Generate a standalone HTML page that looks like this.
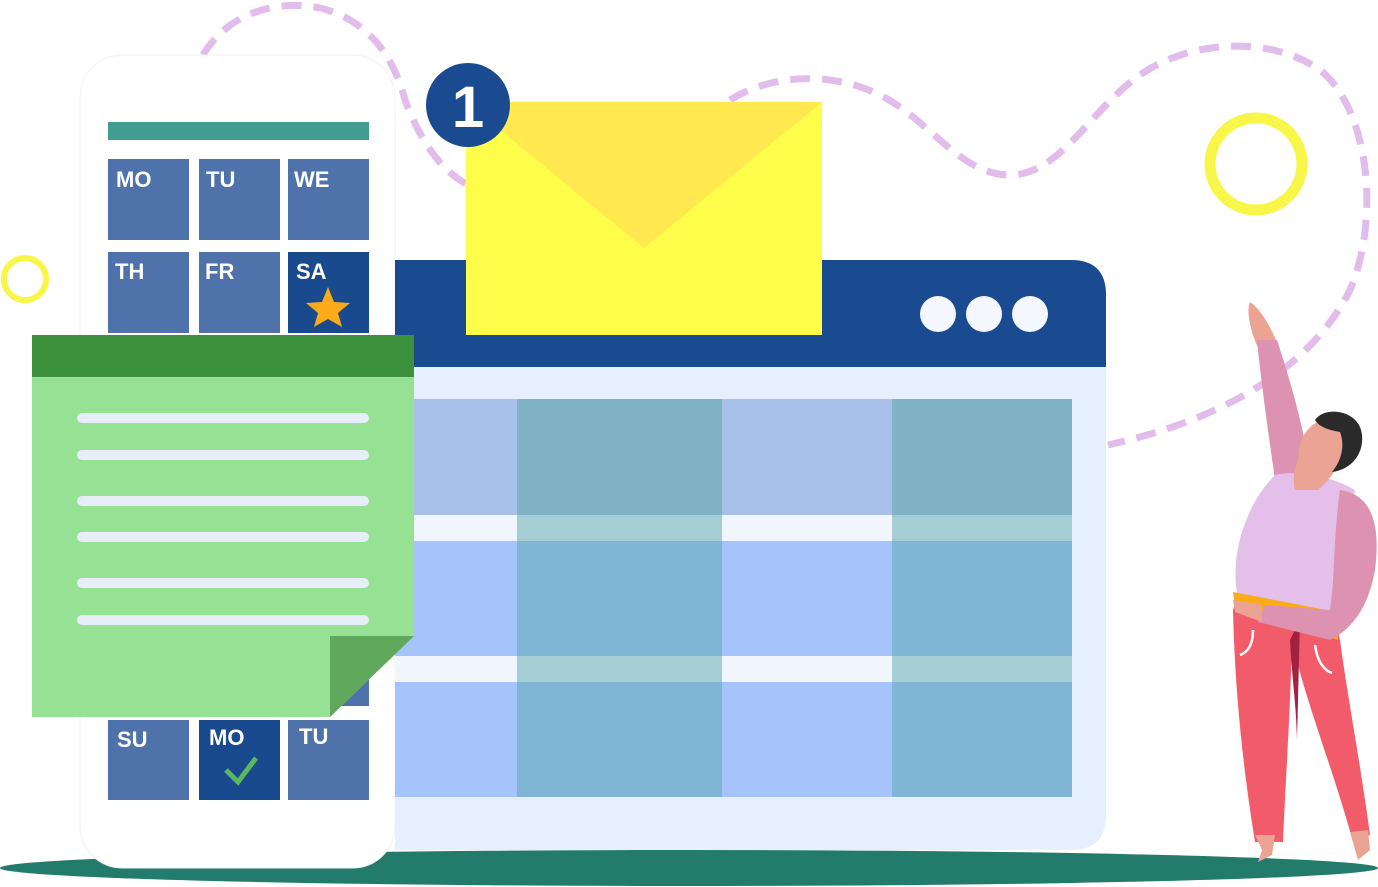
<!DOCTYPE html>
<html><head><meta charset="utf-8"><style>
html,body{margin:0;padding:0;background:#fff;}
svg{display:block}
text{font-family:"Liberation Sans",sans-serif;font-weight:bold;fill:#fff}
</style></head><body>
<svg width="1378" height="887" viewBox="0 0 1378 887" xmlns="http://www.w3.org/2000/svg">
<!-- ground -->
<ellipse cx="689" cy="868" rx="689" ry="18" fill="#237b6c"/>
<!-- dashed paths -->
<g fill="none" stroke="#e2bdec" stroke-width="7" stroke-dasharray="20 12">
<path d="M203 55 C230 10 280 0 320 8 C370 20 395 60 405 100 C420 140 440 170 468 185"/>
<path d="M730 100 C770 75 830 70 880 95 C930 120 960 175 1010 175 C1060 175 1090 110 1140 75 C1190 40 1270 35 1320 70 C1370 110 1380 220 1350 290 C1310 370 1220 420 1108 445"/>
</g>
<!-- yellow rings -->
<circle cx="1256" cy="164" r="46" fill="none" stroke="#f9f64a" stroke-width="11"/>
<circle cx="25" cy="279" r="21" fill="none" stroke="#f9f64a" stroke-width="6"/>
<!-- phone -->
<rect x="80" y="55" width="315" height="813" rx="42" fill="#fff" stroke="#f0f0f4" stroke-width="1"/>
<rect x="108" y="122" width="261" height="18" fill="#429d90"/>
<g fill="#4f72aa">
<rect x="108" y="159" width="81" height="81"/><rect x="199" y="159" width="81" height="81"/><rect x="288" y="159" width="81" height="81"/>
<rect x="108" y="252" width="81" height="81"/><rect x="199" y="252" width="81" height="81"/>
<rect x="108" y="720" width="81" height="80"/><rect x="288" y="720" width="81" height="80"/>
<rect x="330" y="660" width="39" height="46"/>
</g>
<rect x="288" y="252" width="81" height="81" fill="#1a4a8e"/>
<rect x="199" y="720" width="81" height="80" fill="#1a4a8e"/>
<g font-size="22">
<text x="116" y="187">MO</text><text x="206" y="187">TU</text><text x="294" y="187">WE</text>
<text x="115" y="279">TH</text><text x="205" y="279">FR</text><text x="296" y="279">SA</text>
<text x="117" y="747">SU</text><text x="209" y="745">MO</text><text x="299" y="744">TU</text>
</g>
<polygon points="328,287 334,302 350,303 338,313 342,327 328,319 314,327 318,313 306,303 322,302" fill="#fbab1a"/>
<polyline points="226,770 238,782 256,758" fill="none" stroke="#5cb85c" stroke-width="5"/>
<!-- browser -->
<path d="M395 260 H1071 Q1106 260 1106 295 V815 Q1106 850 1071 850 H395 Z" fill="#e6effd"/>
<path d="M395 260 H1071 Q1106 260 1106 295 V367 H395 Z" fill="#1a4a8f"/>
<circle cx="938" cy="314" r="18" fill="#f4f7fd"/><circle cx="984" cy="314" r="18" fill="#f4f7fd"/><circle cx="1030" cy="314" r="18" fill="#f4f7fd"/>
<!-- grid -->
<rect x="395" y="399" width="122" height="116" fill="#a9c1e8"/><rect x="517" y="399" width="205" height="116" fill="#80b3c6"/>
<rect x="722" y="399" width="170" height="116" fill="#a9c1e8"/><rect x="892" y="399" width="180" height="116" fill="#80b3c6"/>
<g fill="#a4cdd4"><rect x="517" y="515" width="205" height="26"/><rect x="892" y="515" width="180" height="26"/><rect x="517" y="656" width="205" height="26"/><rect x="892" y="656" width="180" height="26"/></g>
<g fill="#f1f5fd"><rect x="395" y="515" width="122" height="26"/><rect x="722" y="515" width="170" height="26"/><rect x="395" y="656" width="122" height="26"/><rect x="722" y="656" width="170" height="26"/></g>
<g fill="#a6c4fc"><rect x="395" y="541" width="122" height="115"/><rect x="722" y="541" width="170" height="115"/><rect x="395" y="682" width="122" height="115"/><rect x="722" y="682" width="170" height="115"/></g>
<g fill="#80b5d5"><rect x="517" y="541" width="205" height="115"/><rect x="892" y="541" width="180" height="115"/><rect x="517" y="682" width="205" height="115"/><rect x="892" y="682" width="180" height="115"/></g>
<!-- envelope -->
<rect x="466" y="102" width="356" height="233" fill="#fdfd4a"/>
<polygon points="466,102 822,102 644,248" fill="#ffe94f"/>
<circle cx="468" cy="105" r="42" fill="#1a4a8f"/>
<text x="468" y="127" font-size="58" text-anchor="middle">1</text>
<!-- note -->
<polygon points="32,335 414,335 414,636 330,717 32,717" fill="#96e194"/>
<rect x="32" y="335" width="382" height="42" fill="#3d913d"/>
<polygon points="330,636 414,636 330,717" fill="#60a95c"/>
<g stroke="#e8eef8" stroke-width="10" stroke-linecap="round">
<line x1="82" y1="418" x2="364" y2="418"/><line x1="82" y1="455" x2="364" y2="455"/>
<line x1="82" y1="501" x2="364" y2="501"/><line x1="82" y1="537" x2="364" y2="537"/>
<line x1="82" y1="583" x2="364" y2="583"/><line x1="82" y1="620" x2="364" y2="620"/>
</g>
<!-- person -->
<path d="M1250 302 C1262 310 1272 330 1278 345 L1258 348 C1250 330 1246 310 1250 302Z" fill="#eba393"/>
<path d="M1257 340 L1277 340 C1290 380 1302 420 1310 470 L1275 480 C1268 430 1262 390 1257 340Z" fill="#dc92b0"/>
<path d="M1240 590 L1233 610 C1235 700 1245 780 1255 842 L1283 842 C1285 790 1290 720 1292 640 C1305 700 1330 760 1352 838 L1370 835 C1360 760 1348 700 1340 640 L1330 600Z" fill="#f25c6a"/>
<path d="M1290 640 C1292 680 1296 700 1297 740 L1300 620Z" fill="#a3203f"/>
<path d="M1255 835 L1275 835 L1272 855 L1258 862 L1262 850Z" fill="#eba393"/>
<path d="M1350 832 L1368 830 L1370 850 L1358 860Z" fill="#eba393"/>
<path d="M1275 475 C1295 470 1330 475 1355 490 C1345 540 1345 580 1336 612 L1240 605 C1228 570 1240 510 1275 475Z" fill="#e4bfea"/>
<path d="M1233 592 L1337 612 L1338 640 L1235 605Z" fill="#fbab1a"/>
<path d="M1340 490 C1375 495 1380 530 1375 570 C1368 610 1350 630 1330 640 L1258 622 L1265 605 L1330 610 C1335 580 1333 540 1340 490Z" fill="#dc92b0"/>
<path d="M1233 600 L1262 605 L1262 622 L1235 612Z" fill="#eba393"/>
<path d="M1295 490 C1290 470 1300 450 1320 430 L1345 440 C1345 460 1330 480 1318 490Z" fill="#eba393"/>
<ellipse cx="1322" cy="448" rx="22" ry="30" fill="#eba393" transform="rotate(25 1322 448)"/>
<path d="M1315 420 C1325 405 1360 410 1362 435 C1364 455 1350 470 1332 472 C1342 460 1345 445 1340 432 C1330 430 1320 428 1315 420Z" fill="#2a2a2a"/>
<path d="M1253 630 C1253 645 1248 652 1240 655 M1315 645 C1317 660 1323 670 1332 673" fill="none" stroke="#fff" stroke-width="2.5"/>
</svg>
</body></html>
